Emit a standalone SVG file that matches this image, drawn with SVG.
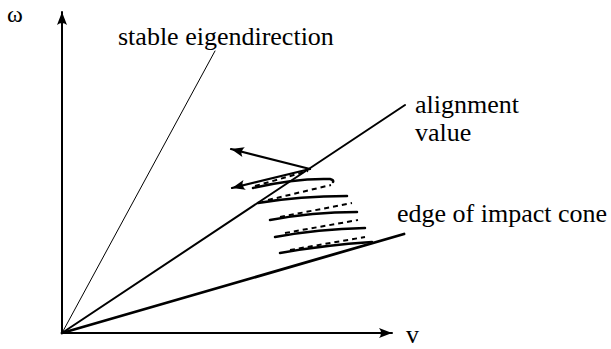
<svg xmlns="http://www.w3.org/2000/svg" width="611" height="349" viewBox="0 0 611 349">
<style>
.t{font-family:'Liberation Serif','Times New Roman',serif;font-size:26px;fill:#000}
.ln{fill:none;stroke:#000;stroke-linecap:round}
.dash{fill:none;stroke:#000;stroke-width:2;stroke-dasharray:5 4}
</style>
<defs>
<marker id="ah" markerUnits="userSpaceOnUse" markerWidth="16" markerHeight="12" viewBox="-14 -6 16 12" refX="0" refY="0" orient="auto">
<path d="M0,0 L-13,-5 Q-9,0 -13,5 Z" fill="#000"/>
</marker>
</defs>
<g id="axes">
<line class="ln" x1="62" y1="333" x2="62" y2="12" stroke-width="2" marker-end="url(#ah)"/>
<line class="ln" x1="62" y1="333" x2="392" y2="333" stroke-width="2" marker-end="url(#ah)"/>
</g>
<g id="labels">
<text id="omega" class="t" x="7" y="22" style="font-size:24px">ω</text>
<text id="v" class="t" x="406" y="343">v</text>
<text id="stable-label" class="t" x="118" y="45">stable eigendirection</text>
<text id="align-label" class="t" x="415" y="113">alignment</text>
<text class="t" x="415" y="141">value</text>
<text id="edge-label" class="t" x="397" y="222">edge of impact cone</text>
</g>
<g id="connectors">
<line class="ln" x1="62" y1="333" x2="215" y2="51" stroke-width="1"/>
<line class="ln" x1="62" y1="333" x2="405" y2="105" stroke-width="2"/>
<line class="ln" x1="62" y1="333" x2="404" y2="234" stroke-width="2.8"/>
<line class="ln" x1="310" y1="169" x2="231" y2="149" stroke-width="2.2" marker-end="url(#ah)"/>
<line class="ln" x1="310" y1="169" x2="232" y2="188" stroke-width="2.2" marker-end="url(#ah)"/>
</g>
<g id="trajectory">
<path class="ln" stroke-width="2.5" d="M253,188 Q295,178 330,179 Q334,180 333,182"/>
<path class="ln" stroke-width="2.5" d="M258,203 Q300,196 347,196"/>
<path class="ln" stroke-width="2.5" d="M270,220 Q312,212 357,212"/>
<path class="ln" stroke-width="2.5" d="M275,237 Q318,229 365,228"/>
<path class="ln" stroke-width="2.5" d="M280,253 Q325,245 372,242"/>
<line class="dash" x1="255" y1="186" x2="308" y2="171"/>
<line class="dash" x1="268" y1="200" x2="331" y2="185"/>
<line class="dash" x1="280" y1="217" x2="352" y2="203"/>
<line class="dash" x1="285" y1="233" x2="358" y2="220"/>
<line class="dash" x1="290" y1="250" x2="365" y2="237"/>
</g>
</svg>
